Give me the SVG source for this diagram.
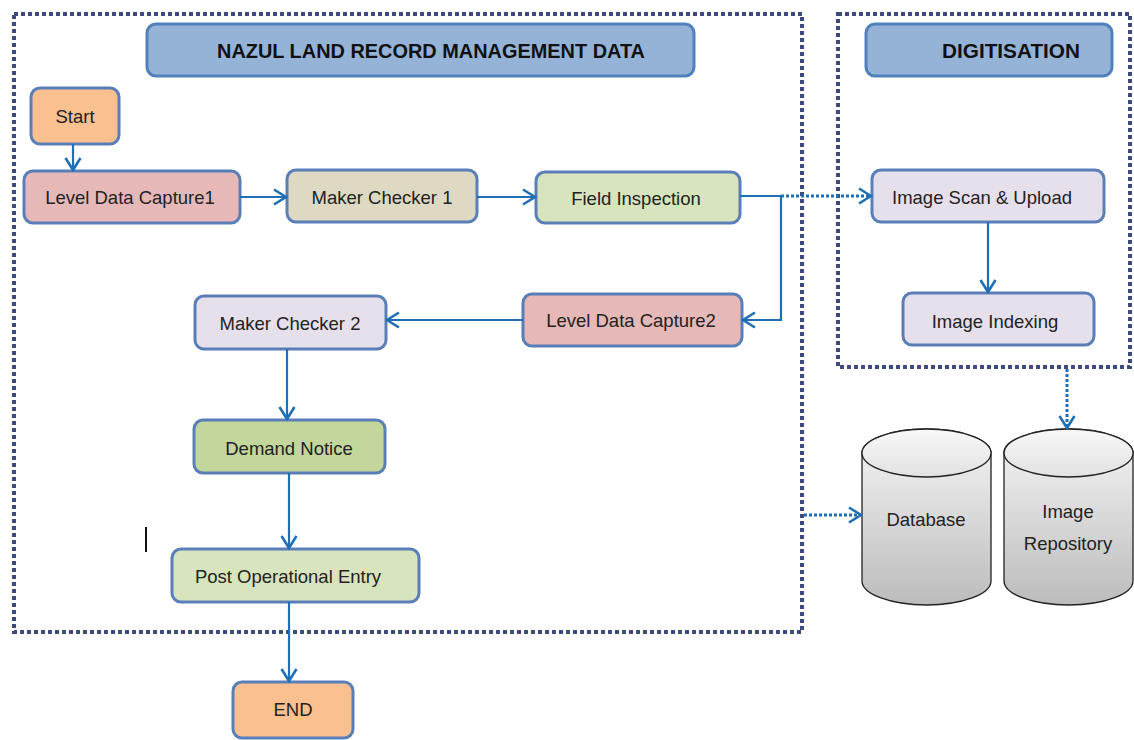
<svg xmlns="http://www.w3.org/2000/svg" width="1134" height="740" viewBox="0 0 1134 740">
<defs>
<marker id="arr" viewBox="0 0 16 18" refX="14" refY="9" markerWidth="16" markerHeight="18" markerUnits="userSpaceOnUse" orient="auto">
<path d="M2,1.5 L14,9 L2,16.5" fill="none" stroke="#1f6fb5" stroke-width="2.6"/>
</marker>
<linearGradient id="cyl" x1="0" y1="0" x2="0" y2="1">
<stop offset="0" stop-color="#f6f6f6"/>
<stop offset="1" stop-color="#bcbcbc"/>
</linearGradient>
<linearGradient id="cyltop" x1="0" y1="0" x2="0" y2="1">
<stop offset="0" stop-color="#f8f8f8"/>
<stop offset="1" stop-color="#e2e2e2"/>
</linearGradient>
</defs>
<style>
.frame{fill:none;stroke:#3d4c7c;stroke-width:4;stroke-dasharray:4 3}
.box{stroke:#5a7fb8;stroke-width:3}
.title{fill:#95b3d7;stroke:#4f81bd;stroke-width:3}
.t{font-family:"Liberation Sans",Arial,sans-serif;font-size:18.5px;fill:#222;text-anchor:middle;dominant-baseline:central}
.tb{font-family:"Liberation Sans",Arial,sans-serif;font-size:20px;font-weight:bold;fill:#111;text-anchor:middle;dominant-baseline:central}
.c{fill:none;stroke:#1f6fb5;stroke-width:2.2}
.d{fill:none;stroke:#1f6fb5;stroke-width:3;stroke-dasharray:3 2}
.cyl{fill:url(#cyl);stroke:#222;stroke-width:1.3}
</style>
<rect width="1134" height="740" fill="#fff"/>
<rect class="frame" x="14" y="14" width="788" height="618"/>
<rect class="frame" x="838" y="14" width="292" height="353"/>
<g id="title-nazul"><rect class="title" x="147" y="24" width="547" height="52" rx="9"/><text class="tb" x="431" y="51" textLength="428" lengthAdjust="spacingAndGlyphs">NAZUL LAND RECORD MANAGEMENT DATA</text></g>
<g id="title-digitisation"><rect class="title" x="866" y="24" width="246" height="52" rx="9"/><text class="tb" x="1011" y="51" textLength="138" lengthAdjust="spacingAndGlyphs">DIGITISATION</text></g>
<g id="start"><rect class="box" x="31" y="88" width="88" height="56" rx="9" fill="#fac090"/><text class="t" x="75" y="116">Start</text></g>
<g id="ldc1"><rect class="box" x="24" y="171" width="216" height="52" rx="9" fill="#e6b9b8"/><text class="t" x="130" y="197">Level Data Capture1</text></g>
<g id="mc1"><rect class="box" x="287" y="170" width="190" height="52" rx="9" fill="#ddd9c3"/><text class="t" x="382" y="197">Maker Checker 1</text></g>
<g id="fi"><rect class="box" x="536" y="172" width="204" height="51" rx="9" fill="#d7e4bd"/><text class="t" x="636" y="198">Field Inspection</text></g>
<g id="isu"><rect class="box" x="872" y="170" width="232" height="52" rx="9" fill="#e6e0ec"/><text class="t" x="982" y="197">Image Scan &amp; Upload</text></g>
<g id="ii"><rect class="box" x="903" y="293" width="191" height="52" rx="9" fill="#e6e0ec"/><text class="t" x="995" y="321">Image Indexing</text></g>
<g id="ldc2"><rect class="box" x="523" y="294" width="219" height="52" rx="9" fill="#e6b9b8"/><text class="t" x="631" y="320">Level Data Capture2</text></g>
<g id="mc2"><rect class="box" x="195" y="296" width="191" height="53" rx="9" fill="#e6e0ec"/><text class="t" x="290" y="323">Maker Checker 2</text></g>
<g id="dn"><rect class="box" x="194" y="420" width="191" height="53" rx="9" fill="#c3d69b"/><text class="t" x="289" y="448">Demand Notice</text></g>
<g id="poe"><rect class="box" x="172" y="549" width="247" height="53" rx="9" fill="#d7e4bd"/><text class="t" x="288" y="576">Post Operational Entry</text></g>
<g id="end"><rect class="box" x="233" y="682" width="120" height="56" rx="9" fill="#fac090"/><text class="t" x="293" y="709">END</text></g>
<g id="database"><path class="cyl" d="M862,453 A64.5,24 0 0 1 991,453 L991,581 A64.5,24 0 0 1 862,581 Z"/><ellipse cx="926.5" cy="453" rx="64.5" ry="24" fill="url(#cyltop)" stroke="#222" stroke-width="1.3"/><text class="t" x="926" y="519">Database</text></g>
<g id="repository"><path class="cyl" d="M1004,453 A64.5,24 0 0 1 1133,453 L1133,581 A64.5,24 0 0 1 1004,581 Z"/><ellipse cx="1068.5" cy="453" rx="64.5" ry="24" fill="url(#cyltop)" stroke="#222" stroke-width="1.3"/><text class="t" x="1068" y="511">Image</text><text class="t" x="1068" y="543">Repository</text></g>
<line x1="146" y1="527" x2="146" y2="552" stroke="#111" stroke-width="2"/>
<g id="connectors">
<path class="c" d="M73,144 L73,170" marker-end="url(#arr)"/>
<path class="c" d="M240,197 L286,197" marker-end="url(#arr)"/>
<path class="c" d="M477,197 L535,197" marker-end="url(#arr)"/>
<path class="c" d="M740,196 L781,196 L781,320 L743,320" marker-end="url(#arr)"/>
<path class="d" d="M781,196 L871,196" marker-end="url(#arr)"/>
<path class="c" d="M988,222 L988,292" marker-end="url(#arr)"/>
<path class="c" d="M523,320 L387,320" marker-end="url(#arr)"/>
<path class="c" d="M287,349 L287,419" marker-end="url(#arr)"/>
<path class="c" d="M289,473 L289,548" marker-end="url(#arr)"/>
<path class="c" d="M289,602 L289,681" marker-end="url(#arr)"/>
<path class="d" d="M1067,369 L1067,428" marker-end="url(#arr)"/>
<path class="d" d="M804,515 L861,515" marker-end="url(#arr)"/>
</g>
</svg>
